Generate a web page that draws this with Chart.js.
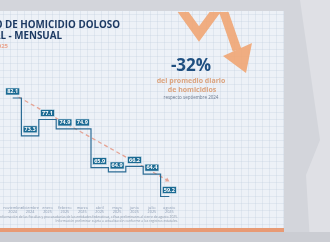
<!DOCTYPE html>
<html><head><meta charset="utf-8">
<script src="https://cdn.jsdelivr.net/npm/chart.js@4/dist/chart.umd.min.js"></script>
<style>html,body{margin:0;padding:0;background:#d3d5db;}#wrap{width:330px;height:242px;position:relative;}</style>
</head><body><div id="wrap"><canvas id="c" width="330" height="242"></canvas></div>
<script>
const months = [["noviembre","2024"],["diciembre","2024"],["enero","2025"],["febrero","2025"],["marzo","2025"],["abril","2025"],["mayo","2025"],["junio","2025"],["julio","2025"],["agosto","2025"]];
const values = [82.1, 73.3, 77.1, 74.9, 74.9, 65.9, 64.9, 66.2, 64.4, 59.2];
const trendX = [0.34, 8.88];
const trendY = [82.3, 63.0];
const titleLines = ["PROMEDIO DIARIO DE HOMICIDIO DOLOSO", "NACIONAL - MENSUAL", "SEPTIEMBRE 2024 - AGOSTO 2025"];
const bigStat = "-32%";
const statLines = ["del promedio diario", "de homicidios", "respecto septiembre 2024"];
const footnote = ["Fuente: SESNSP con información de las fiscalías y procuradurías de las entidades federativas, cifras preliminares al cierre de agosto 2025.", "Información preliminar sujeta a actualización conforme a los registros estatales."];

const bgPlugin = {
  id: 'bg',
  beforeDraw(chart) {
    const ctx = chart.ctx;
    ctx.save();
    ctx.fillStyle = '#d3d5db'; ctx.fillRect(0, 0, 330, 242);
    ctx.fillStyle = '#dfe0e5';
    ctx.beginPath(); ctx.moveTo(300, 0); ctx.lineTo(330, 0); ctx.lineTo(330, 242); ctx.lineTo(310, 242); ctx.lineTo(306, 175); ctx.lineTo(320, 140); ctx.closePath(); ctx.fill();
    ctx.fillStyle = '#edf1f7'; ctx.fillRect(0, 11, 284, 218);
    ctx.strokeStyle = 'rgba(185,200,220,0.28)'; ctx.lineWidth = 1;
    for (let x = 3.5; x < 284; x += 7) { ctx.beginPath(); ctx.moveTo(x, 11); ctx.lineTo(x, 228); ctx.stroke(); }
    for (let y = 14.5; y < 228; y += 7) { ctx.beginPath(); ctx.moveTo(0, y); ctx.lineTo(284, y); ctx.stroke(); }
    ctx.fillStyle = '#e89a74'; ctx.fillRect(0, 228, 284, 4);
    ctx.fillStyle = '#cbcdd3'; ctx.fillRect(0, 232, 330, 10);
    ctx.save();
    ctx.beginPath(); ctx.rect(0, 12, 284, 216); ctx.clip();
    ctx.strokeStyle = 'rgba(240,165,115,0.9)'; ctx.fillStyle = 'rgba(240,165,115,0.9)';
    ctx.lineWidth = 9; ctx.lineJoin = 'miter';
    ctx.beginPath(); ctx.moveTo(176, 2); ctx.lineTo(199, 34); ctx.lineTo(221, 4); ctx.lineTo(237, 50); ctx.stroke();
    ctx.beginPath(); ctx.moveTo(223, 56); ctx.lineTo(252, 43); ctx.lineTo(246, 73); ctx.closePath(); ctx.fill();
    ctx.restore();
    ctx.fillStyle = '#1d3a63'; ctx.textBaseline = 'alphabetic'; ctx.textAlign = 'right';
    ctx.font = 'bold 9.8px "Open Sans"';
    ctx.fillText(titleLines[0], 120, 28);
    ctx.fillText(titleLines[1], 62, 38.5);
    ctx.fillStyle = '#e9a48e'; ctx.font = 'bold 6px "Open Sans"';
    ctx.fillText(titleLines[2], 8, 48);
    ctx.textAlign = 'center';
    ctx.fillStyle = '#1f4f80'; ctx.font = 'bold 17px "Open Sans"';
    ctx.fillText(bigStat, 191, 70.5);
    ctx.fillStyle = '#dba37e'; ctx.font = 'bold 7px "Open Sans"';
    ctx.fillText(statLines[0], 191, 83);
    ctx.fillText(statLines[1], 192, 91.5);
    ctx.fillStyle = '#6b7a90'; ctx.font = '4.5px "Open Sans"';
    ctx.fillText(statLines[2], 191, 98.5);
    ctx.textAlign = 'right'; ctx.fillStyle = '#8d99aa'; ctx.font = '3.3px "Open Sans"';
    ctx.fillText(footnote[0], 178, 217.5);
    ctx.fillText(footnote[1], 178, 221.5);
    ctx.restore();
  }
};

const labelPlugin = {
  id: 'vlabels',
  afterDatasetsDraw(chart) {
    const ctx = chart.ctx;
    const meta = chart.getDatasetMeta(0);
    ctx.save();
    ctx.font = 'bold 5.5px "Open Sans"'; ctx.textAlign = 'center'; ctx.textBaseline = 'middle';
    meta.data.forEach((pt, i) => {
      const cx = pt.x, cy = pt.y - 6.5;
      ctx.fillStyle = '#1b6a93';
      ctx.fillRect(cx - 7, cy - 3.5, 14, 7);
      ctx.strokeStyle = '#e6eef5'; ctx.lineWidth = 0.6;
      ctx.strokeRect(cx - 7, cy - 3.5, 14, 7);
      ctx.fillStyle = '#ffffff';
      ctx.fillText(values[i].toFixed(1), cx, cy + 0.3);
    });
    ctx.restore();
  }
};

new Chart(document.getElementById('c'), {
  type: 'line',
  data: {
    datasets: [
      { data: values.map((v, i) => ({ x: i, y: v })), stepped: 'middle', borderColor: '#2c6c95', borderWidth: 1.2, pointRadius: 0, order: 0 },
      { data: trendX.map((x, i) => ({ x: x, y: trendY[i] })), borderColor: '#e5a394', borderWidth: 1.3, borderDash: [4, 3],
        pointRadius: [0, 2.6], pointStyle: 'triangle', rotation: 119, pointBackgroundColor: '#e5a394', pointBorderWidth: 0, order: 1 }
    ]
  },
  options: {
    responsive: false, animation: false, devicePixelRatio: 1,
    layout: { padding: { left: 0, right: 152, top: 64, bottom: 24.2 } },
    plugins: { legend: { display: false }, tooltip: { enabled: false } },
    scales: {
      x: { type: 'linear', min: -0.5, max: 9.5, offset: false,
        afterFit(s) { s.height = 14; },
        afterBuildTicks(s) { s.ticks = months.map((m, i) => ({ value: i })); },
        grid: { display: false, drawTicks: false }, border: { display: false },
        ticks: { padding: 1.5, maxRotation: 0, autoSkip: false, color: '#8b9bb2', font: { size: 3.8, family: 'Open Sans' },
          callback: (v) => months[Math.round(v)] } },
      y: { display: false, min: 57.5, max: 90 }
    }
  },
  plugins: [bgPlugin, labelPlugin]
});
</script></body></html>
